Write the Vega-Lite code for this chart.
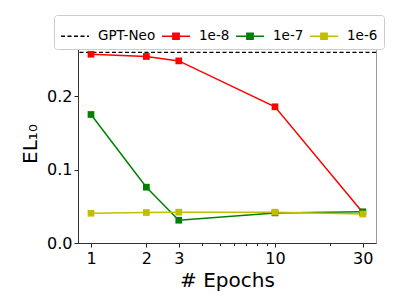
{
  "$schema": "https://vega.github.io/schema/vega-lite/v6.json",
  "width": 298,
  "height": 199,
  "autosize": {"type": "none"},
  "padding": {"left": 78, "top": 44, "right": 23, "bottom": 56},
  "background": "white",
  "config": {
    "font": "DejaVu Sans",
    "view": {"stroke": "#999", "strokeWidth": 1},
    "axis": {"grid": false, "domainColor": "#333", "tickColor": "#222", "labelColor": "black", "titleColor": "black", "labelFont": "DejaVu Sans", "titleFont": "DejaVu Sans", "labelFontSize": 16, "titleFontSize": 20, "titleFontWeight": "normal", "tickSize": 4}
  },
  "layer": [
    {
      "data": {"values": [{"series": "GPT-Neo", "el": 0.2595}]},
      "mark": {"type": "rule", "strokeDash": [4, 2.5], "strokeWidth": 1.3},
      "encoding": {
        "y": {"field": "el", "type": "quantitative", "scale": {"domain": [0, 0.271], "nice": false},
          "axis": {"values": [0, 0.1, 0.2], "format": ".1f", "title": "EL₁₀", "titlePadding": 6}},
        "color": {"field": "series", "type": "nominal", "sort": ["GPT-Neo", "1e-8", "1e-7", "1e-6"],
          "scale": {"domain": ["GPT-Neo", "1e-8", "1e-7", "1e-6"], "range": ["black", "#ff0000", "#008000", "#bfbf00"]},
          "legend": {
            "orient": "none", "legendX": -24, "legendY": -29, "direction": "horizontal", "title": null,
            "labelFontSize": 13.5, "labelFont": "DejaVu Sans", "labelColor": "black",
            "symbolSize": 784, "labelOffset": 8, "columnPadding": 3, "padding": 6,
            "strokeColor": "#ccc", "fillColor": "white", "cornerRadius": 3,
            "encode": {"symbols": {"update": {
              "shape": [{"test": "datum.value === 'GPT-Neo'", "value": "M-1,0H1"}, {"value": "M-1,0H1M-0.23,-0.23H0.23V0.23H-0.23Z"}],
              "fill": [{"test": "datum.value === 'GPT-Neo'", "value": "transparent"}, {"scale": "color", "field": "value"}],
              "stroke": {"scale": "color", "field": "value"},
              "strokeDash": [{"test": "datum.value === 'GPT-Neo'", "value": [4, 2.5]}, {"value": [1, 0]}],
              "strokeWidth": {"value": 1.3},
              "opacity": {"value": 1}
            }}}
          }}
      }
    },
    {
      "data": {"values": [
        {"series": "1e-8", "epoch": 1, "el": 0.257},
        {"series": "1e-8", "epoch": 2, "el": 0.254},
        {"series": "1e-8", "epoch": 3, "el": 0.248},
        {"series": "1e-8", "epoch": 10, "el": 0.1855},
        {"series": "1e-8", "epoch": 30, "el": 0.0415},
        {"series": "1e-7", "epoch": 1, "el": 0.175},
        {"series": "1e-7", "epoch": 2, "el": 0.076},
        {"series": "1e-7", "epoch": 3, "el": 0.031},
        {"series": "1e-7", "epoch": 10, "el": 0.041},
        {"series": "1e-7", "epoch": 30, "el": 0.0425},
        {"series": "1e-6", "epoch": 1, "el": 0.0405},
        {"series": "1e-6", "epoch": 2, "el": 0.0415},
        {"series": "1e-6", "epoch": 3, "el": 0.042},
        {"series": "1e-6", "epoch": 10, "el": 0.042},
        {"series": "1e-6", "epoch": 30, "el": 0.0395}
      ]},
      "mark": {"type": "line", "strokeWidth": 1.5, "point": {"shape": "square", "filled": true, "size": 45, "opacity": 1}},
      "encoding": {
        "x": {"field": "epoch", "type": "quantitative", "scale": {"type": "log", "domain": [0.85, 35.4], "nice": false},
          "axis": {"values": [1, 2, 3, 4, 5, 6, 7, 8, 9, 10, 20, 30],
            "tickCount": 30,
            "labelExpr": "indexof([1, 2, 3, 10, 30], datum.value) >= 0 ? format(datum.value, 'd') : ''",
            "tickSize": {"condition": {"test": "indexof([1, 2, 3, 10, 30], datum.value) >= 0", "value": 4}, "value": 2.5},
            "tickWidth": 1,
            "labelOverlap": false,
            "title": "# Epochs", "titlePadding": 4, "labelPadding": 3.5}},
        "y": {"field": "el", "type": "quantitative"},
        "color": {"field": "series", "type": "nominal", "sort": ["GPT-Neo", "1e-8", "1e-7", "1e-6"],
          "scale": {"domain": ["GPT-Neo", "1e-8", "1e-7", "1e-6"], "range": ["black", "#ff0000", "#008000", "#bfbf00"]}}
      }
    }
  ]
}
